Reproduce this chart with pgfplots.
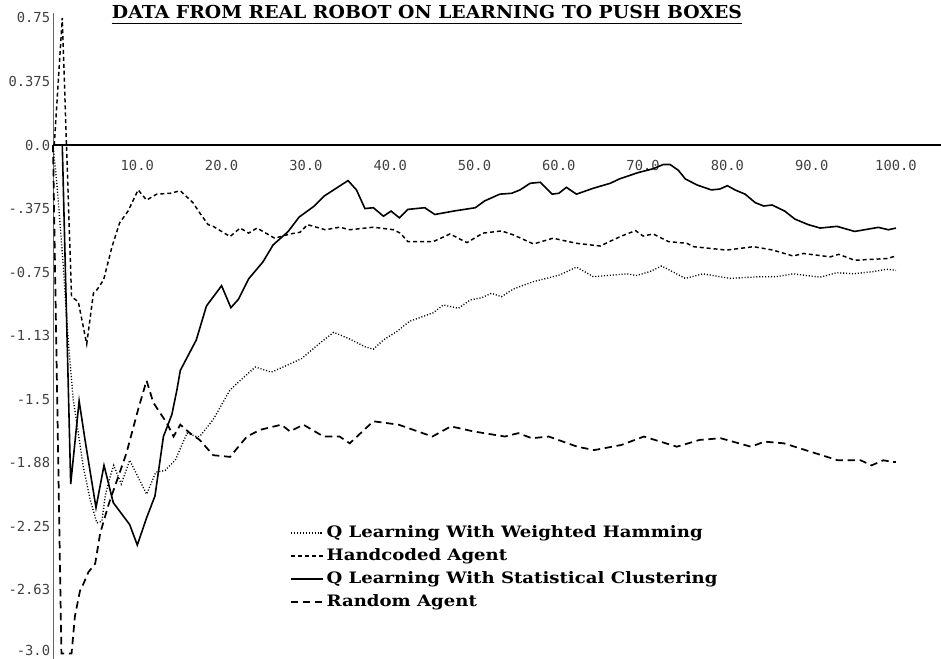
\documentclass[border=0pt]{standalone}
\usepackage{fontspec}
\usepackage{pgfplots}
\pgfplotsset{compat=1.18}
\usepackage{graphicx}
\newfontfamily\monofont{DejaVu Sans Mono}
\newfontfamily\legfont{DejaVu Serif}
\setmainfont{DejaVu Serif}
\newcommand{\legtxt}[1]{\scalebox{1.15}[1]{#1}}
\begin{document}
\begin{tikzpicture}
\begin{axis}[
  at={(0,0)}, anchor=south west,
  scale only axis, width=666pt, height=484.5pt,
  xmin=0, xmax=105.34, ymin=-3.0324, ymax=0.7788,
  axis lines=middle,
  every inner x axis line/.append style={-, line width=1pt, draw=black},
  every inner y axis line/.append style={-, line width=0.6pt, draw=black!60},
  hide obscured x ticks=false, hide obscured y ticks=false,
  xtick={10,20,30,40,50,60,70,80,90,100},
  xticklabels={10.0,20.0,30.0,40.0,50.0,60.0,70.0,80.0,90.0,100.0},
  ytick={-2.625,-2.25,-1.875,-1.5,-1.125,-0.75,-0.375,0,0.375,0.75},
  yticklabels={-2.63,-2.25,-1.88,-1.5,-1.13,-0.75,-.375,0.0,0.375,0.75},
  extra y ticks={-3},
  extra y tick labels={-3.0},
  extra y tick style={yticklabel style={yshift=2.6pt}},
  major tick length=0pt,
  tick style={draw=none},
  xticklabel style={font=\monofont\fontsize{10.35pt}{12pt}\selectfont, text=black!75, anchor=center, yshift=-15pt},
  yticklabel style={font=\monofont\fontsize{10.35pt}{12pt}\selectfont, text=black!75, anchor=east, inner xsep=2pt},
  clip=false,
  legend style={at={(0.2669,0.2068)}, anchor=north west, draw=none, fill=none,
    inner sep=0pt, row sep=6.25pt, column sep=2pt,
    nodes={inner sep=0pt, text height=8.5pt, text depth=2.5pt},
    font=\legfont\bfseries\fontsize{11.8pt}{13pt}\selectfont},
  legend cell align=left,
  legend image code/.code={\draw[#1] (0pt,0pt) -- (24pt,0pt);},
]
% Q Learning With Weighted Hamming (dotted)
\addplot[black, line width=1.0pt, dash pattern=on 0.8pt off 1.4pt] coordinates {
(0,0) (0.5,-0.25) (1.2,-0.7) (1.8,-1.15) (2.4,-1.5) (3.0,-1.70) (3.6,-1.90) (4.4,-2.09)
(5.2,-2.23) (5.8,-2.22) (6.2,-2.07) (6.7,-1.97) (7.2,-1.89) (8.1,-2.0) (9.1,-1.86)
(11.1,-2.06) (12.2,-1.93) (13.3,-1.92) (14.5,-1.86) (15.9,-1.70) (17.0,-1.72) (17.4,-1.72)
(19.0,-1.62) (21.0,-1.445) (22.2,-1.39) (24.0,-1.31) (25.9,-1.34) (27.3,-1.31) (29.5,-1.26)
(31.5,-1.175) (33.3,-1.105) (35.0,-1.14) (37.0,-1.19) (38.0,-1.205) (39.2,-1.15) (40.8,-1.10)
(42.3,-1.04) (45.1,-0.99) (46.3,-0.944) (48.1,-0.963) (49.5,-0.914) (50.9,-0.90) (52.0,-0.875)
(53.2,-0.895) (54.6,-0.85) (57.0,-0.806) (60.1,-0.767) (62.1,-0.72) (64.1,-0.777) (66.5,-0.767)
(68.1,-0.76) (69.2,-0.77) (70.8,-0.747) (72.2,-0.714) (73.2,-0.74) (75.0,-0.787) (77.1,-0.76)
(80.3,-0.787) (83.9,-0.777) (85.8,-0.777) (87.8,-0.76) (91.0,-0.78) (93.0,-0.753) (94.9,-0.76)
(97.3,-0.747) (98.9,-0.733) (100,-0.74)
};
% Handcoded Agent (short dashes)
\addplot[black, line width=1.1pt, dash pattern=on 3pt off 2.2pt] coordinates {
(0.15,0) (1.1,0.75) (2.2,-0.895) (3.0,-0.925) (4.0,-1.174) (4.8,-0.873) (5.2,-0.855)
(6.0,-0.796) (7.0,-0.60) (7.9,-0.46) (8.9,-0.39) (10.1,-0.265) (11.1,-0.325) (12.3,-0.29)
(13.9,-0.285) (15.1,-0.27) (16.6,-0.34) (17.4,-0.40) (18.4,-0.47) (19.0,-0.48) (21.0,-0.54)
(22.2,-0.49) (23.2,-0.52) (24.2,-0.49) (26.3,-0.55) (28.1,-0.525) (29.3,-0.515) (30.2,-0.47)
(32.3,-0.50) (34.0,-0.485) (35.2,-0.50) (38.0,-0.485) (40.4,-0.50) (41.2,-0.52) (42.1,-0.57)
(45.1,-0.57) (47.1,-0.525) (49.1,-0.576) (51.0,-0.52) (53.2,-0.507) (54.6,-0.53) (57.0,-0.584)
(59.3,-0.55) (62.1,-0.58) (64.9,-0.596) (67.3,-0.54) (69.1,-0.505) (70.0,-0.537) (71.2,-0.525)
(73.0,-0.57) (75.2,-0.58) (76.0,-0.60) (79.9,-0.62) (83.1,-0.60) (85.4,-0.62) (87.8,-0.655)
(89.0,-0.64) (92.2,-0.66) (93.2,-0.645) (95.1,-0.68) (98.9,-0.67) (100,-0.655)
};
% Q Learning With Statistical Clustering (solid)
\addplot[black, line width=1.2pt] coordinates {
(0,0) (1.1,0) (2.1,-2.0) (3.1,-1.51) (3.8,-1.74) (5.1,-2.14) (6.05,-1.89) (7.15,-2.11)
(9.1,-2.24) (10.0,-2.36) (11.1,-2.20) (12.1,-2.07) (13.1,-1.72) (14.1,-1.59) (14.7,-1.445)
(15.1,-1.33) (17.0,-1.15) (18.2,-0.95) (20.0,-0.83) (21.1,-0.96) (22.0,-0.91) (23.2,-0.79)
(24.9,-0.69) (26.1,-0.59) (27.9,-0.51) (29.2,-0.425) (31.0,-0.36) (32.2,-0.30) (35.0,-0.21)
(36.0,-0.265) (37.0,-0.375) (38.0,-0.37) (39.2,-0.42) (40.1,-0.39) (41.1,-0.43) (42.1,-0.38)
(44.1,-0.37) (45.3,-0.41) (47.5,-0.39) (50.1,-0.37) (51.2,-0.33) (53.0,-0.29) (54.4,-0.285)
(55.4,-0.265) (56.6,-0.226) (57.8,-0.22) (59.2,-0.29) (60.0,-0.285) (60.9,-0.25) (62.1,-0.29)
(64.1,-0.255) (66.1,-0.226) (67.2,-0.20) (69.4,-0.163) (71.2,-0.14) (72.4,-0.115) (73.2,-0.115)
(74.2,-0.15) (75.0,-0.20) (76.4,-0.236) (78.1,-0.265) (79.1,-0.26) (80.0,-0.24) (80.9,-0.265)
(82.1,-0.29) (83.3,-0.34) (84.3,-0.36) (85.3,-0.354) (86.8,-0.39) (88.0,-0.437) (89.6,-0.47)
(91.0,-0.49) (93.0,-0.48) (95.1,-0.51) (97.9,-0.486) (99.1,-0.50) (100,-0.49)
};
% Random Agent (long dashes)
\addplot[black, line width=1.3pt, dash pattern=on 5.5pt off 3.5pt] coordinates {
(0,0) (1.0,-3.0) (2.2,-3.0) (2.6,-2.78) (3.2,-2.63) (3.6,-2.59) (4.2,-2.52) (5.0,-2.47)
(5.6,-2.29) (6.6,-2.12) (8.7,-1.82) (10.1,-1.56) (11.1,-1.39) (11.9,-1.52) (13.5,-1.64)
(14.3,-1.72) (15.1,-1.65) (16.25,-1.70) (17.4,-1.74) (19.0,-1.83) (21.0,-1.84) (23.0,-1.72)
(24.6,-1.68) (27.1,-1.65) (28.1,-1.69) (29.7,-1.65) (32.1,-1.72) (34.0,-1.72) (35.2,-1.76)
(38.0,-1.63) (41.0,-1.65) (45.0,-1.72) (47.2,-1.66) (49.9,-1.69) (53.6,-1.72) (55.2,-1.70)
(56.8,-1.73) (58.8,-1.72) (62.2,-1.78) (64.2,-1.80) (67.4,-1.77) (70.1,-1.72) (74.0,-1.78)
(76.7,-1.74) (79.2,-1.73) (82.8,-1.78) (84.4,-1.75) (86.7,-1.76) (89.9,-1.81) (93.1,-1.86)
(95.8,-1.86) (97.1,-1.89) (98.5,-1.86) (99.6,-1.87) (100,-1.87)
};
\legend{\legtxt{Q Learning With Weighted Hamming}, \legtxt{Handcoded Agent}, \legtxt{Q Learning With Statistical Clustering}, \legtxt{Random Agent}}
\end{axis}
\node[anchor=base, inner sep=0pt] (title) at (280.5pt,480pt)
  {\resizebox{472.5pt}{\height}{\legfont\bfseries\fontsize{13.4pt}{15pt}\selectfont DATA FROM REAL ROBOT ON LEARNING TO PUSH BOXES}};
\draw[line width=0.9pt] ([yshift=-3.2pt]title.base west) -- ([yshift=-3.2pt]title.base east);
\pgfresetboundingbox
\path[use as bounding box] (-39.75pt,0pt) rectangle (666pt,494.25pt);
\end{tikzpicture}
\end{document}
